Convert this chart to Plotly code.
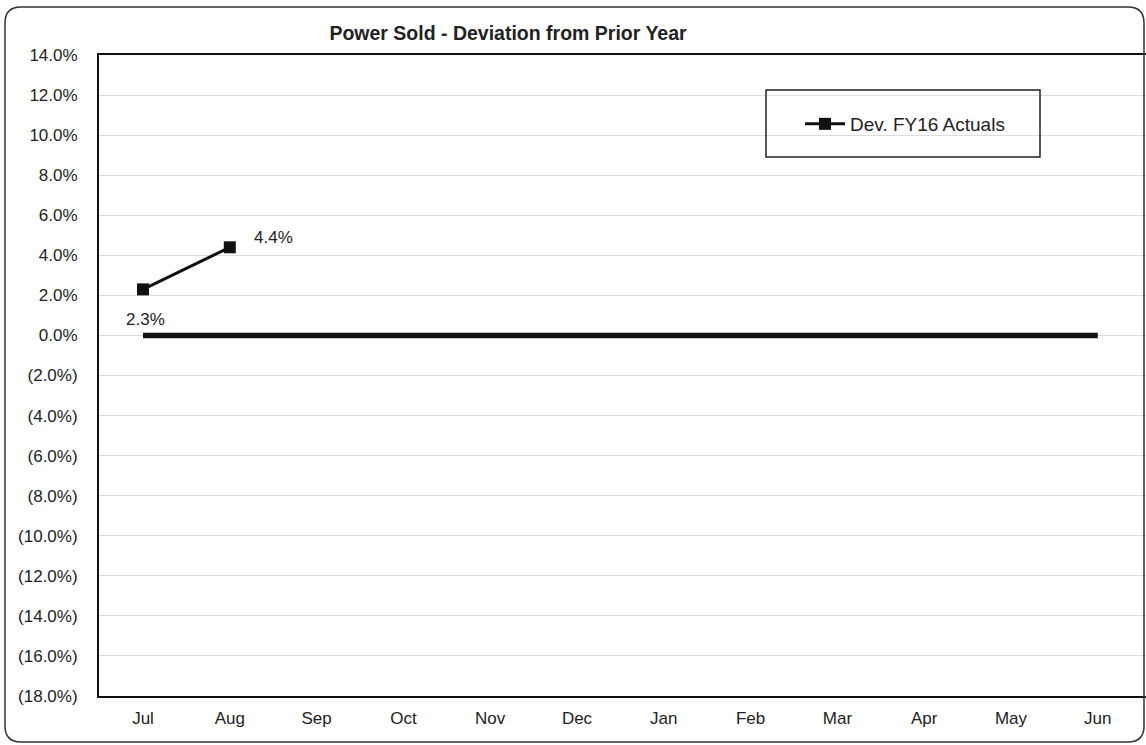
import plotly.graph_objects as go

months = ["Jul", "Aug", "Sep", "Oct", "Nov", "Dec", "Jan", "Feb", "Mar", "Apr", "May", "Jun"]
dev_months = ["Jul", "Aug"]
dev_values = [2.3, 4.4]
zero_values = [0, 0, 0, 0, 0, 0, 0, 0, 0, 0, 0, 0]
y_tickvals = [14, 12, 10, 8, 6, 4, 2, 0, -2, -4, -6, -8, -10, -12, -14, -16, -18]
y_ticktext = ["14.0%", "12.0%", "10.0%", "8.0%", "6.0%", "4.0%", "2.0%", "0.0%",
              "(2.0%)", "(4.0%)", "(6.0%)", "(8.0%)", "(10.0%)", "(12.0%)",
              "(14.0%)", "(16.0%)", "(18.0%)"]

W, H = 1146, 745
L, R, T, B = 99, 0, 55, 49
PW = W - L - R
PH = H - T - B
FONT = "Liberation Sans, Arial, sans-serif"
TXT = "#222222"


def px(x):
    return (x - L) / PW


def py(y):
    return (H - B - y) / PH


fig = go.Figure()
fig.add_trace(go.Scatter(
    x=months, y=zero_values, mode="lines",
    line=dict(color="#111111", width=5.5), showlegend=False, hoverinfo="skip",
))
fig.add_trace(go.Scatter(
    x=dev_months, y=dev_values, mode="lines+markers", name="Dev. FY16 Actuals",
    line=dict(color="#111111", width=3),
    marker=dict(symbol="square", size=12, color="#111111"),
))

# data labels
label_shifts = [(2, -30), (44, 10)]
for m, v, (dx, dy) in zip(dev_months, dev_values, label_shifts):
    fig.add_annotation(x=m, y=v, text=f"{v:.1f}%", showarrow=False,
                       xshift=dx, yshift=dy, font=dict(family=FONT, size=17, color=TXT))

# outer rounded frame
x0, y0, x1, y1, r = 5, 7, 1144, 742, 16
path = (f"M {px(x0 + r)},{py(y0)} L {px(x1 - r)},{py(y0)} Q {px(x1)},{py(y0)} {px(x1)},{py(y0 + r)} "
        f"L {px(x1)},{py(y1 - r)} Q {px(x1)},{py(y1)} {px(x1 - r)},{py(y1)} "
        f"L {px(x0 + r)},{py(y1)} Q {px(x0)},{py(y1)} {px(x0)},{py(y1 - r)} "
        f"L {px(x0)},{py(y0 + r)} Q {px(x0)},{py(y0)} {px(x0 + r)},{py(y0)} Z")
fig.add_shape(type="path", path=path, xref="paper", yref="paper",
              line=dict(color="#333333", width=1.5), layer="above")

# legend box
fig.add_shape(type="rect", xref="paper", yref="paper",
              x0=px(766), x1=px(1040), y0=py(90), y1=py(157),
              line=dict(color="#222222", width=1.5), fillcolor="rgba(0,0,0,0)", layer="above")

fig.update_layout(
    width=W, height=H,
    margin=dict(l=L, r=R, t=T, b=B),
    paper_bgcolor="white", plot_bgcolor="white",
    font=dict(family=FONT, size=17, color=TXT),
    title=dict(text="<b>Power Sold - Deviation from Prior Year</b>",
               x=508 / W, xref="container", xanchor="center",
               y=1 - 33 / H, yref="container", yanchor="middle",
               font=dict(family=FONT, size=19.5, color=TXT)),
    showlegend=True,
    legend=dict(x=px(800), y=py(124), xanchor="left", yanchor="middle",
                bgcolor="rgba(0,0,0,0)", borderwidth=0, itemwidth=40,
                font=dict(family=FONT, size=19, color=TXT)),
    xaxis=dict(type="category", categoryorder="array", categoryarray=months,
               range=[-44 / 86.8, -44 / 86.8 + PW / 86.8],
               showgrid=False, showline=True, linecolor="#111111", linewidth=2,
               mirror=True, ticks="", ticklabelstandoff=6,
               tickfont=dict(family=FONT, size=17, color=TXT)),
    yaxis=dict(range=[-18, 14], tickvals=y_tickvals, ticktext=y_ticktext,
               showgrid=True, gridcolor="#dcdcdc", gridwidth=1,
               zeroline=False, showline=True, linecolor="#111111", linewidth=2,
               ticks="", ticklabelstandoff=16,
               tickfont=dict(family=FONT, size=17, color=TXT)),
)

fig.write_html("out.html", config={"displayModeBar": False},
               post_script="document.body.style.margin='0';")
